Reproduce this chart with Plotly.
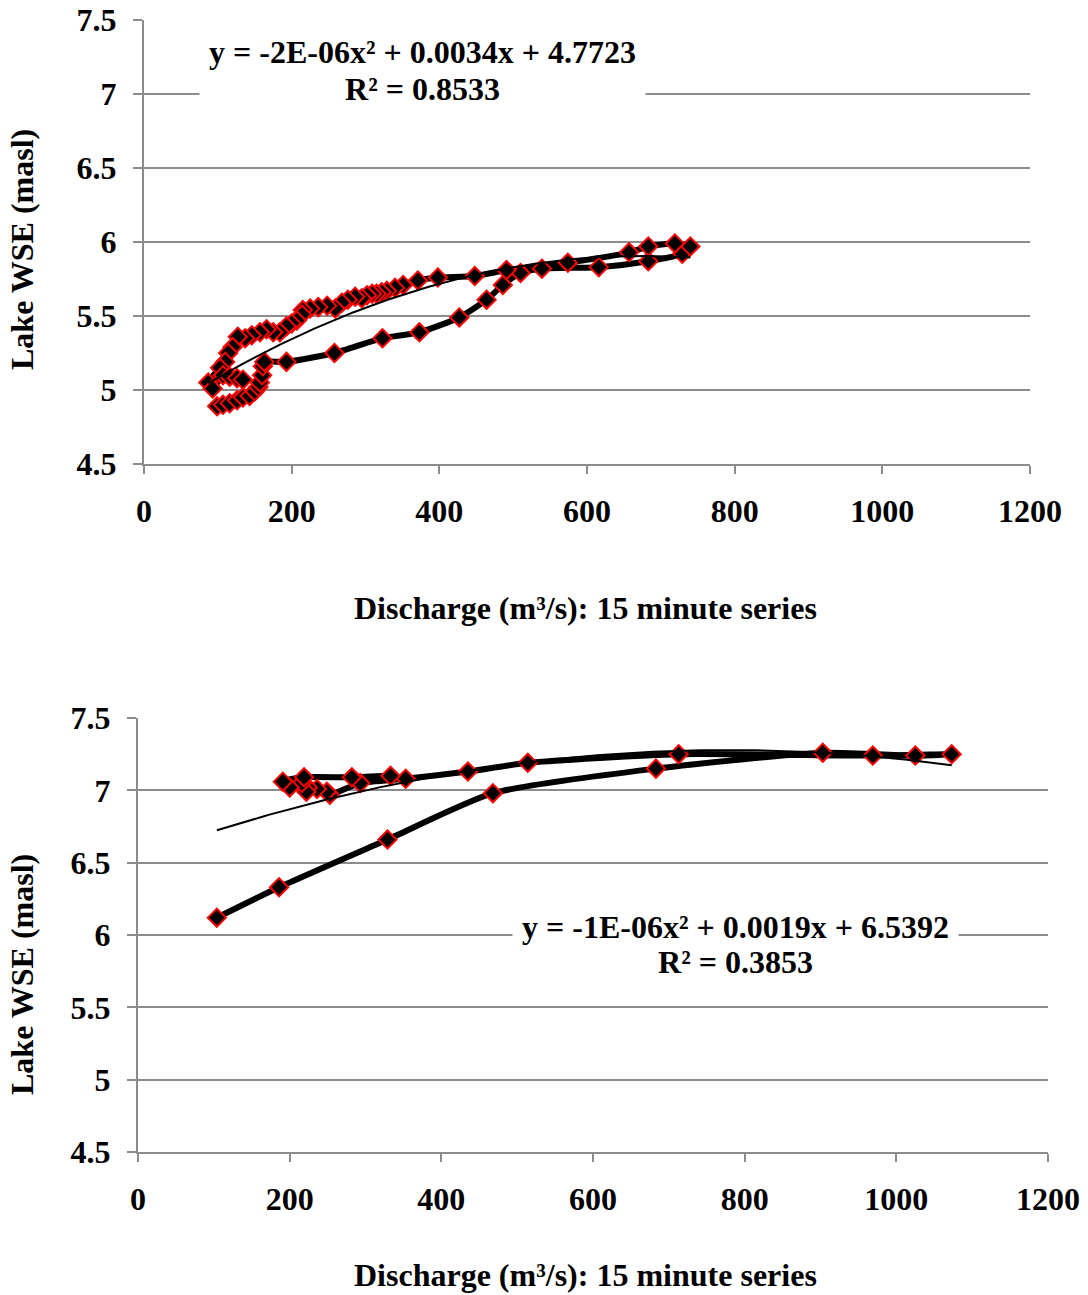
import numpy as np
import plotly.graph_objects as go

# ---- Series 1: 15 minute series, event A (discharge m3/s, lake WSE masl) ----
q1 = [99, 107, 116, 126, 134, 143, 150, 155, 157, 160, 161, 163,
      193, 258, 323, 373, 427, 464, 486, 510, 539, 616, 683, 729,
      740, 719, 683, 657, 574, 491, 448, 398, 371, 351, 340, 329, 322, 315, 309, 302,
      295, 286, 276, 268, 259, 248, 236, 225, 215, 214, 207, 200, 193, 184,
      175, 166, 157, 146, 137, 127, 120, 114, 110, 103, 87, 93, 107, 116,
      126, 134]
h1 = [4.89, 4.90, 4.91, 4.93, 4.95, 4.96, 4.99, 5.02, 5.05, 5.10, 5.16, 5.19,
      5.19, 5.25, 5.35, 5.39, 5.49, 5.61, 5.71, 5.79, 5.82, 5.83, 5.87, 5.92,
      5.97, 5.99, 5.97, 5.93, 5.86, 5.81, 5.77, 5.76, 5.74, 5.71, 5.69, 5.67, 5.66, 5.65, 5.65, 5.64,
      5.62, 5.63, 5.61, 5.59, 5.55, 5.57, 5.56, 5.55, 5.54, 5.51, 5.47, 5.45, 5.43, 5.39,
      5.39, 5.41, 5.39, 5.37, 5.35, 5.36, 5.29, 5.25, 5.19, 5.15, 5.05, 5.01, 5.10, 5.09,
      5.08, 5.07]

# ---- Series 2: 15 minute series, event B ----
q2 = [104, 186, 329, 468, 683, 903, 1025, 1073, 969, 713, 514, 435, 353,
      293, 253, 249, 236, 224, 222, 216, 200, 191, 219, 282, 333]
h2 = [6.12, 6.33, 6.66, 6.98, 7.15, 7.26, 7.24, 7.25, 7.24, 7.25, 7.19, 7.13, 7.08,
      7.05, 6.97, 6.99, 7.01, 7.02, 6.99, 7.05, 7.02, 7.06, 7.09, 7.09, 7.10]

# Polynomial trendline coefficients (a*x^2 + b*x + c) and their labels
trend1 = (-2.49e-06, 0.00336, 4.7723)
trend2 = (-1.22e-06, 0.0019, 6.5392)
eq1_lines = ("y = -2E-06x² + 0.0034x + 4.7723", "R² = 0.8533")
eq2_lines = ("y = -1E-06x² + 0.0019x + 6.5392", "R² = 0.3853")

x_ticks = [0, 200, 400, 600, 800, 1000, 1200]
y_ticks = [4.5, 5, 5.5, 6, 6.5, 7, 7.5]
x_title = "Discharge (m³/s): 15 minute series"
y_title = "Lake WSE (masl)"

FONT = "Liberation Serif"
GRID = "#8c8c8c"

fig = go.Figure()


def add_panel(q, h, coef, xa, ya):
    xs = np.linspace(min(q), max(q), 200)
    a, b, c = coef
    fig.add_trace(go.Scatter(
        x=q, y=h, mode="lines+markers", xaxis=xa, yaxis=ya,
        line=dict(color="black", width=6, shape="spline", smoothing=0.6),
        marker=dict(symbol="diamond", size=14, color="black",
                    line=dict(color="red", width=2)),
        showlegend=False, hoverinfo="skip"))
    fig.add_trace(go.Scatter(
        x=xs, y=a * xs ** 2 + b * xs + c, mode="lines", xaxis=xa, yaxis=ya,
        line=dict(color="black", width=2), showlegend=False, hoverinfo="skip"))


add_panel(q1, h1, trend1, "x", "y")
add_panel(q2, h2, trend2, "x2", "y2")

W, H = 1088, 1295
tick_font = dict(family=FONT, size=32, color="black", weight="bold")


def xaxis_style(x0, x1, anchor):
    return dict(domain=[x0 / W, x1 / W], range=[0, 1200], tickvals=x_ticks,
                anchor=anchor, automargin=False,
                showgrid=False, zeroline=False, showline=True, linecolor=GRID,
                linewidth=2, ticks="outside", ticklen=8, tickwidth=2,
                tickcolor=GRID, ticklabelstandoff=10, tickfont=tick_font)


def yaxis_style(y_top, y_bot, anchor):
    return dict(domain=[1 - y_bot / H, 1 - y_top / H], range=[4.5, 7.5],
                tickvals=y_ticks, anchor=anchor, automargin=False,
                showgrid=True, gridcolor=GRID, gridwidth=2,
                zeroline=False, showline=True, linecolor=GRID, linewidth=2,
                ticks="outside", ticklen=9, tickwidth=2, tickcolor=GRID,
                ticklabelstandoff=10, tickfont=tick_font)


fig.update_layout(
    width=W, height=H, margin=dict(l=0, r=0, t=0, b=0, autoexpand=False),
    plot_bgcolor="white", paper_bgcolor="white",
    xaxis=xaxis_style(144, 1030, "y"),
    yaxis=yaxis_style(20, 464, "x"),
    xaxis2=xaxis_style(138, 1048, "y2"),
    yaxis2=yaxis_style(718, 1152, "x2"),
)

title_font = dict(family=FONT, size=32, color="black", weight="bold")
ann = []
for yc in (608, 1275):
    ann.append(dict(text=x_title, x=585 / W, y=1 - yc / H, xref="paper",
                    yref="paper", showarrow=False, font=title_font,
                    xanchor="center", yanchor="middle"))
for yc in (250, 975):
    ann.append(dict(text=y_title, x=22 / W, y=1 - yc / H, xref="paper",
                    yref="paper", showarrow=False, font=title_font,
                    textangle=-90, xanchor="center", yanchor="middle"))

eq_font = dict(family=FONT, size=32, color="black", weight="bold")


def add_equation(lines, xc, y1, y2, x0, x1):
    # second line carries a white box wide enough to mask the gridline behind it
    ann.append(dict(text=lines[1], x=xc / W, y=1 - y2 / H, xref="paper",
                    yref="paper", showarrow=False, font=eq_font,
                    bgcolor="white", width=x1 - x0, borderpad=0,
                    xanchor="center", yanchor="middle"))
    ann.append(dict(text=lines[0], x=xc / W, y=1 - y1 / H, xref="paper",
                    yref="paper", showarrow=False, font=eq_font,
                    bgcolor="white", width=x1 - x0, borderpad=0,
                    xanchor="center", yanchor="middle"))


add_equation(eq1_lines, 422, 52, 89, 200, 645)
add_equation(eq2_lines, 735, 927, 962, 510, 955)
fig.update_layout(annotations=ann)

fig.write_html("out.html")
